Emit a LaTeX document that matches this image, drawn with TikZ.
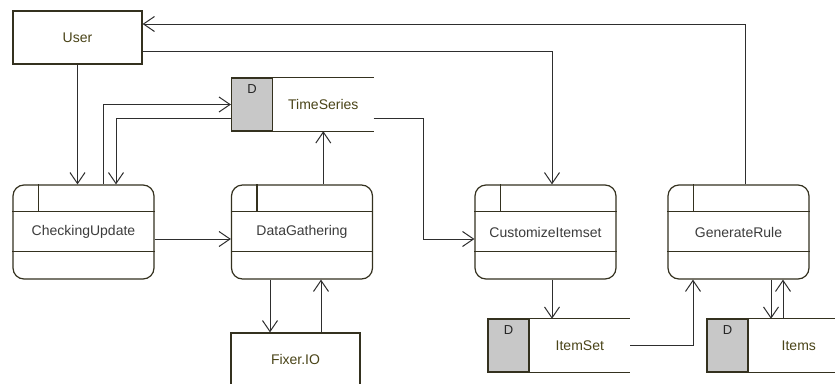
\documentclass[tikz,border=0pt]{standalone}
\usepackage{fontspec}
\setmainfont{Liberation Sans}
\usetikzlibrary{arrows.meta}
\definecolor{edge}{HTML}{2E2E2E}
\definecolor{boxline}{HTML}{34311F}
\definecolor{entitytxt}{HTML}{4A4418}
\definecolor{proctxt}{HTML}{3C3C3C}
\definecolor{storegray}{HTML}{C8C8C8}
\tikzset{
  ent/.style={draw=boxline, line width=1.2pt, fill=white, minimum width=129pt, minimum height=53pt, inner sep=0pt, text=entitytxt, font=\fontsize{14}{16}\selectfont},
  proc/.style={draw=boxline, line width=1.2pt, fill=white, rounded corners=11pt, minimum width=141pt, minimum height=94pt, inner sep=0pt, text=proctxt, font=\fontsize{14}{16}\selectfont},
  sgray/.style={draw=boxline, line width=1.2pt, fill=storegray, minimum width=41pt, minimum height=53pt, inner sep=0pt},
  swhite/.style={minimum width=100pt, minimum height=53pt, inner sep=0pt, text=entitytxt, font=\fontsize{14}{16}\selectfont},
  dlabel/.style={font=\fontsize{13}{15}\selectfont, text=black!85, inner sep=0pt},
  inner/.style={draw=boxline, line width=1.2pt},
  arr/.style={draw=edge, line width=1pt, -{Straight Barb[length=11pt,width=15pt,line width=1pt]}},
  ln/.style={draw=edge, line width=1pt}
}
\newcommand{\procinner}[1]{%
  \draw[inner] ([yshift=-27pt]#1.north west) -- ([yshift=-27pt]#1.north east);
  \draw[inner] ([yshift=-67pt]#1.north west) -- ([yshift=-67pt]#1.north east);
  \draw[inner] ([xshift=26pt]#1.north west) -- ([xshift=26pt,yshift=-27pt]#1.north west);
}
\newcommand{\storelines}[1]{%
  \draw[inner] (#1.north west) -- (#1.north east);
  \draw[inner] (#1.south west) -- (#1.south east);
}
\begin{document}
\begin{tikzpicture}[x=1pt,y=-1pt]
\useasboundingbox (0,0) rectangle (835,383);
\fill[white] (0,0) rectangle (835,383);

% entities
\node[ent] (user) at (77.5,37.5) {User};
\node[ent] (fixer) at (295.5,359.5) {Fixer.IO};

% stores
\node[sgray] (tsD) at (252,104.5) {};
\node[swhite, anchor=west] (ts) at (tsD.east) {TimeSeries};
\storelines{ts}
\node[dlabel] (tsDl) at (252,89) {D};

\node[sgray] (isD) at (508.5,345.5) {};
\node[swhite, anchor=west] (is) at (isD.east) {ItemSet};
\storelines{is}
\node[dlabel] (isDl) at (508.5,330) {D};

\node[sgray] (itD) at (727.5,345.5) {};
\node[swhite, anchor=west] (it) at (itD.east) {Items};
\storelines{it}
\node[dlabel] (itDl) at (727.5,330) {D};

% processes
\node[proc] (cu) at (83.5,232) {CheckingUpdate};
\procinner{cu}
\node[proc] (dg) at (302,232) {DataGathering};
\procinner{dg}
\node[proc] (ci) at (545.5,232) {CustomizeItemset};
\procinner{ci}
\node[proc] (gr) at (738.5,232) {GenerateRule};
\procinner{gr}

% connectors
\draw[arr] (user.south) -- (user.south |- cu.north);
\draw[arr] ([xshift=19.5pt]cu.north) |- (tsD.west);
\draw[arr] ([yshift=-13.5pt]tsD.west) -| ([xshift=32.5pt]cu.north);
\draw[arr] ([yshift=-7pt]cu.east) -- ([yshift=-7pt]dg.west);
\draw[arr] (ts.south |- dg.north) -- (ts.south);
\draw[arr] ([xshift=-25.5pt]fixer.north |- dg.south) -- ([xshift=-25.5pt]fixer.north);
\draw[arr] ([xshift=25.5pt]fixer.north) -- ([xshift=25.5pt]fixer.north |- dg.south);
\coordinate (tsbend) at (423,118);
\draw[arr] ([yshift=-13.5pt]ts.east) -- (tsbend) |- ([yshift=-7pt]ci.west);
\draw[arr] ([yshift=-13.5pt]user.east) -| ([xshift=6.5pt]ci.north);
\draw[arr] ([xshift=6.5pt]gr.north) |- ([yshift=13.5pt]user.east);
\draw[arr] ([xshift=6.5pt]ci.south) -- ([xshift=6.5pt]ci.south |- is.north);
\draw[arr] (is.east) -| ([xshift=-45.5pt]gr.south);
\draw[arr] ([xshift=32.5pt]gr.south) -- ([xshift=32.5pt]gr.south |- it.north);
\draw[arr] ([xshift=44.5pt]gr.south |- it.north) -- ([xshift=44.5pt]gr.south);
\end{tikzpicture}
\end{document}
